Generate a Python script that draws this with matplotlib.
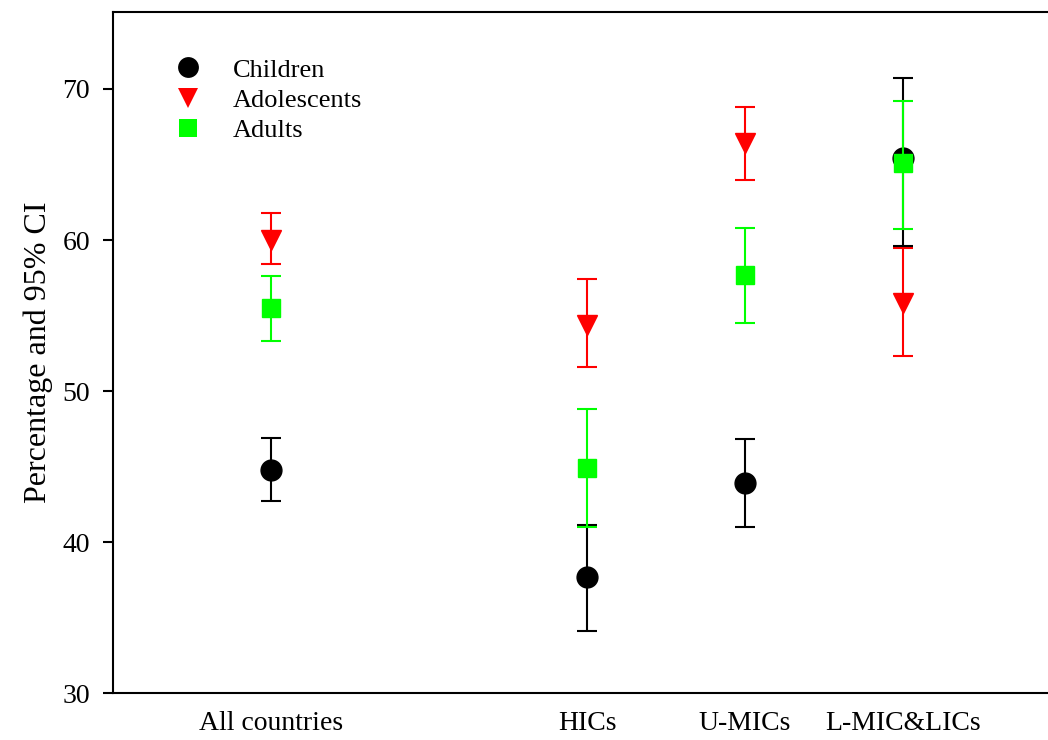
import matplotlib
matplotlib.use("Agg")
import matplotlib.pyplot as plt
from matplotlib.lines import Line2D
import numpy as np

plt.rcParams['font.family'] = ['Liberation Serif', 'DejaVu Serif']

categories = ["All countries", "HICs", "U-MICs", "L-MIC&LICs"]
xpos = [1, 3, 4, 5]

children = [44.8, 37.7, 43.9, 65.4]
children_lo = [42.7, 34.1, 41.0, 59.6]
children_hi = [46.9, 41.1, 46.8, 70.7]

adolescents = [60.0, 54.4, 66.4, 55.8]
adolescents_lo = [58.4, 51.6, 64.0, 52.3]
adolescents_hi = [61.8, 57.4, 68.8, 59.5]

adults = [55.5, 44.9, 57.7, 65.1]
adults_lo = [53.3, 41.0, 54.5, 60.7]
adults_hi = [57.6, 48.8, 60.8, 69.2]

fig = plt.figure(figsize=(10.48, 7.4), dpi=100)
ax = fig.add_axes([0.1078, 0.0635, 0.9046, 0.9203])

def draw(vals, lo, hi, color, marker, ms, label, z):
    vals = np.array(vals); lo = np.array(lo); hi = np.array(hi)
    yerr = np.vstack([vals - lo, hi - vals])
    ax.errorbar(xpos, vals, yerr=yerr, fmt=marker, color=color, ecolor=color,
                mec=color, mfc=color,
                markersize=ms, capsize=7.5, elinewidth=1.5, capthick=1.5,
                label=label, zorder=z)

draw(adolescents, adolescents_lo, adolescents_hi, '#FF0000', 'v', 15, 'Adolescents', 3)
draw(children, children_lo, children_hi, '#000000', 'o', 15, 'Children', 4)
draw(adults, adults_lo, adults_hi, '#00FF00', 's', 13, 'Adults', 5)

ax.set_xlim(0, 6)
ax.set_ylim(30, 75.1)
ax.set_yticks([30, 40, 50, 60, 70])
ax.set_xticks(xpos)
ax.set_xticklabels(categories)
ax.tick_params(axis='x', length=0, labelsize=20, pad=13)
ax.tick_params(axis='y', direction='out', length=7.5, width=1.5, labelsize=20, pad=9)
for s in ax.spines.values():
    s.set_linewidth(1.5)
ax.spines['right'].set_visible(False)
ax.set_ylabel("Percentage and 95% CI", fontsize=23, labelpad=7)

leg_handles = [
    Line2D([], [], linestyle='none', marker='o', color='#000000', markersize=15, markeredgewidth=0),
    Line2D([], [], linestyle='none', marker='v', color='#FF0000', markersize=15, markeredgewidth=0),
    Line2D([], [], linestyle='none', marker='s', color='#00FF00', markersize=13, markeredgewidth=0),
]
ax.legend(leg_handles, ['Children', 'Adolescents', 'Adults'], loc='upper left',
          bbox_to_anchor=(0.033, 0.967), frameon=False, fontsize=19,
          handletextpad=0.95, labelspacing=0.25, handlelength=1.5)

fig.savefig("out.png", dpi=100)
